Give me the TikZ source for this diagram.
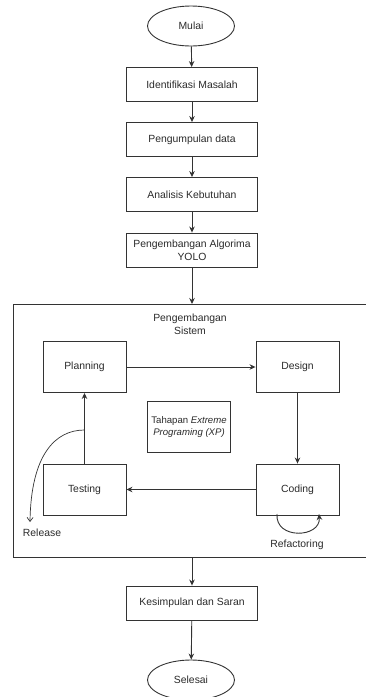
\documentclass[tikz,border=0pt]{standalone}
\usepackage{fontspec}
\setmainfont{Liberation Sans}
\usetikzlibrary{shapes.geometric,arrows.meta}
\definecolor{ln}{HTML}{333333}
\definecolor{tx}{HTML}{2A2A2A}
\begin{document}
\begin{tikzpicture}[x=1pt,y=-1pt,
  every node/.style={font=\fontsize{10.4}{13}\selectfont, text=tx, align=center},
  mainbox/.style={draw=ln, line width=0.9pt, minimum width=131pt, minimum height=34pt, inner sep=1pt},
  xpbox/.style={draw=ln, line width=0.9pt, minimum width=83pt, minimum height=51pt, inner sep=1pt},
  term/.style={draw=ln, line width=0.9pt, ellipse, minimum width=87pt, minimum height=40pt, inner sep=0pt},
  arr/.style={draw=ln, line width=0.9pt, -{Stealth[length=6pt,width=5.5pt]}},
  lbl/.style={inner sep=1pt}]
\useasboundingbox (0,0) rectangle (366,697);
\node[term] (mulai) at (191,26) {Mulai};
\node[mainbox] (b1) at (192,84.5) {Identifikasi Masalah};
\node[mainbox] (b2) at (192,139.5) {Pengumpulan data};
\node[mainbox] (b3) at (192,194.5) {Analisis Kebutuhan};
\node[mainbox] (b4) at (192,250) {Pengembangan Algorima\\YOLO};
\node[draw=ln, line width=0.9pt, minimum width=354pt, minimum height=253pt, inner sep=0pt] (frame) at (190,430.5) {};
\node[lbl] (ftitle) at (190,324) {Pengembangan\\Sistem};
\node[xpbox] (plan) at (84.5,367) {Planning};
\node[xpbox] (design) at (297.5,367) {Design};
\node[xpbox, font=\fontsize{9.6}{12.5}\selectfont] (tahap) at (189,427) {Tahapan \textit{Extreme}\\\textit{Programing (XP)}};
\node[xpbox] (test) at (84.5,489.5) {Testing};
\node[xpbox] (code) at (297.5,489.5) {Coding};
\node[lbl] (release) at (42,533) {Release};
\node[lbl] (refac) at (297,545) {Refactoring};
\node[mainbox] (b5) at (192,603) {Kesimpulan dan Saran};
\node[term] (selesai) at (191,680) {Selesai};
\coordinate (fin) at (192,304);
\coordinate (fout) at (192,557);
\coordinate (rs) at (84.5,430);
\coordinate (re) at (30,522);
\coordinate (cs) at (277,514);
\coordinate (ce) at (319,514);
\draw[arr] (mulai) -- (b1);
\draw[arr] (b1) -- (b2);
\draw[arr] (b2) -- (b3);
\draw[arr] (b3) -- (b4);
\draw[arr] (b4) -- (fin);
\draw[arr] (plan) -- (design);
\draw[arr] (design) -- (code);
\draw[arr] (code) -- (test);
\draw[arr] (test) -- (plan);
\draw[draw=ln, line width=0.7pt, -{Straight Barb[length=4pt,width=6pt]}] (rs) .. controls (55,430) and (31,455) .. (re);
\draw[arr] (cs) .. controls (275,540) and (321,538) .. (ce);
\draw[arr] (fout) -- (b5);
\draw[arr] (b5) -- (selesai);
\end{tikzpicture}
\end{document}
